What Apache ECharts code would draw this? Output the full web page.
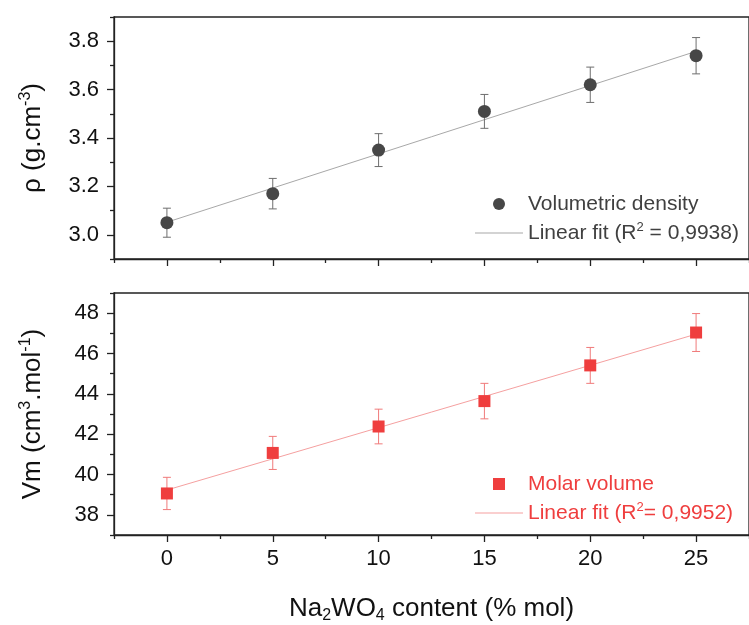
<!DOCTYPE html>
<html>
<head>
<meta charset="utf-8">
<script src="https://cdn.jsdelivr.net/npm/echarts@6/dist/echarts.min.js"></script>
<style>html,body{margin:0;padding:0;background:#fff}#c{width:749px;height:625px}</style>
</head>
<body>
<div id="c"></div>
<script>
// ---- data ----
const xValues = [0, 5, 10, 15, 20, 25];
const rhoValues = [3.05, 3.17, 3.35, 3.51, 3.62, 3.74];
const rhoErrors = [0.06, 0.063, 0.068, 0.07, 0.073, 0.075];
const rhoFitX = [0, 25];
const rhoFitY = [3.052, 3.758];
const vmValues = [39.06, 41.07, 42.38, 43.64, 45.41, 47.04];
const vmErrors = [0.8, 0.82, 0.86, 0.88, 0.89, 0.94];
const vmFitX = [0, 25];
const vmFitY = [39.23, 46.96];
const xTickLabels = [0, 5, 10, 15, 20, 25];
const xMinorTicks = [-2.5, 2.5, 7.5, 12.5, 17.5, 22.5, 27.5];
const rhoTickLabels = [3.0, 3.2, 3.4, 3.6, 3.8];
const rhoMinorTicks = [2.9, 3.1, 3.3, 3.5, 3.7, 3.9];
const vmTickLabels = [38, 40, 42, 44, 46, 48];
const vmMinorTicks = [37, 39, 41, 43, 45, 47, 49];
const names = {
  rho: 'Volumetric density',
  rhoFit: 'Linear fit (R² = 0,9938)',
  vm: 'Molar volume',
  vmFit: 'Linear fit (R²= 0,9952)'
};

const FONT = "'Liberation Sans', Arial, sans-serif";
const AX = '#222';
const LINE_ICON = 'path://M0,0 H48 V1 H0 Z';
const SQUARE_ICON = 'path://M0,0 H10 V10 H0 Z';
const grids = [
  {left: 114, right: -13, top: 17, height: 242},
  {left: 114, right: -13, top: 293, height: 243}
];

function xAxes(gridIndex, withName) {
  const main = {
    type: 'value', gridIndex, position: 'bottom', min: -2.5, max: 27.5,
    axisLine: {onZero: false, lineStyle: {color: AX, width: 1.3}},
    axisTick: {customValues: xTickLabels, length: 7, lineStyle: {color: AX, width: 1.3}},
    axisLabel: {show: withName, customValues: xTickLabels, margin: 13, fontSize: 22, color: '#111', fontFamily: FONT},
    splitLine: {show: false}
  };
  if (withName) {
    main.name = '{n|Na}{sub|2}{n|WO}{sub|4}{n| content (% mol)}';
    main.nameLocation = 'middle';
    main.nameGap = 59;
    main.nameTextStyle = {
      fontFamily: FONT, color: '#111',
      rich: {
        n: {fontSize: 26, lineHeight: 30, fontFamily: FONT, color: '#111'},
        sub: {fontSize: 16, lineHeight: 16, verticalAlign: 'bottom', fontFamily: FONT, color: '#111'}
      }
    };
  }
  const minor = {
    type: 'value', gridIndex, position: 'bottom', min: -2.5, max: 27.5,
    axisLine: {show: false, onZero: false},
    axisTick: {customValues: xMinorTicks, length: 4, lineStyle: {color: AX, width: 1.3}},
    axisLabel: {show: false}, splitLine: {show: false}
  };
  return [main, minor];
}

function yAxes(gridIndex, min, max, labels, minors, fmt, nameParts, gap) {
  const main = {
    type: 'value', gridIndex, position: 'left', min, max,
    axisLine: {show: true, onZero: false, lineStyle: {color: AX, width: 1.3}},
    axisTick: {show: true, customValues: labels, length: 7, lineStyle: {color: AX, width: 1.3}},
    axisLabel: {customValues: labels, margin: 15, fontSize: 22, color: '#111', fontFamily: FONT, formatter: fmt},
    splitLine: {show: false},
    name: nameParts, nameLocation: 'middle', nameGap: gap,
    nameTextStyle: {
      fontFamily: FONT, color: '#111',
      rich: {
        n: {fontSize: 26, lineHeight: 30, fontFamily: FONT, color: '#111'},
        sup: {fontSize: 16, lineHeight: 16, verticalAlign: 'top', fontFamily: FONT, color: '#111'}
      }
    }
  };
  const minor = {
    type: 'value', gridIndex, position: 'left', min, max,
    axisLine: {show: false, onZero: false},
    axisTick: {show: true, customValues: minors, length: 4, lineStyle: {color: AX, width: 1.3}},
    axisLabel: {show: false}, splitLine: {show: false}
  };
  return [main, minor];
}

function errorSeries(xi, yi, vals, errs, color) {
  return {
    type: 'custom', xAxisIndex: xi, yAxisIndex: yi, z: 2, silent: true,
    data: xValues.map((x, i) => [x, vals[i] - errs[i], vals[i] + errs[i]]),
    renderItem: function (params, api) {
      const x = api.value(0);
      const top = api.coord([x, api.value(2)]);
      const bot = api.coord([x, api.value(1)]);
      const w = 4;
      const style = {stroke: color, lineWidth: 1};
      return {
        type: 'group',
        children: [
          {type: 'line', shape: {x1: top[0], y1: top[1], x2: bot[0], y2: bot[1]}, style},
          {type: 'line', shape: {x1: top[0] - w, y1: top[1], x2: top[0] + w, y2: top[1]}, style},
          {type: 'line', shape: {x1: bot[0] - w, y1: bot[1], x2: bot[0] + w, y2: bot[1]}, style}
        ]
      };
    }
  };
}

function legendFmt(name) { return name.replace('²', '{sup|2}'); }

function makeLegend(top, items, color) {
  return {
    orient: 'vertical', left: 475, top, padding: 0, itemWidth: 48, itemHeight: 12, itemGap: 5,
    selectedMode: false, formatter: legendFmt, data: items,
    textStyle: {fontSize: 21, lineHeight: 24, color, fontFamily: FONT,
      rich: {sup: {fontSize: 13, lineHeight: 13, verticalAlign: 'top', color, fontFamily: FONT}}}
  };
}

const option = {
  animation: false,
  backgroundColor: '#fff',
  textStyle: {fontFamily: FONT},
  grid: grids.map(g => Object.assign({show: true, borderColor: AX, borderWidth: 1.3, backgroundColor: 'transparent'}, g)),
  xAxis: [...xAxes(0, false), ...xAxes(1, true)],
  yAxis: [
    ...yAxes(0, 2.9, 3.9, rhoTickLabels, rhoMinorTicks, v => v.toFixed(1), '{n|ρ (g.cm}{sup|-3}{n|)}', 66),
    ...yAxes(1, 37, 49, vmTickLabels, vmMinorTicks, v => String(Math.round(v)), '{n|Vm (cm}{sup|3}{n|.mol}{sup|-1}{n|)}', 66)
  ],
  legend: [
    makeLegend(192, [{name: names.rho, icon: 'circle'}, {name: names.rhoFit, icon: LINE_ICON}], '#404040'),
    makeLegend(472, [{name: names.vm, icon: SQUARE_ICON}, {name: names.vmFit, icon: LINE_ICON}], '#ef3e3e')
  ],
  series: [
    {
      name: names.rhoFit, type: 'line', xAxisIndex: 0, yAxisIndex: 0, z: 1,
      symbol: 'none', data: rhoFitX.map((x, i) => [x, rhoFitY[i]]),
      lineStyle: {color: '#a8a8a8', width: 1}, itemStyle: {color: '#a8a8a8'}
    },
    errorSeries(0, 0, rhoValues, rhoErrors, '#6e6e6e'),
    {
      name: names.rho, type: 'scatter', xAxisIndex: 0, yAxisIndex: 0, z: 3,
      symbol: 'circle', symbolSize: 13, data: xValues.map((x, i) => [x, rhoValues[i]]),
      itemStyle: {color: '#474747', opacity: 1}
    },
    {
      name: names.vmFit, type: 'line', xAxisIndex: 2, yAxisIndex: 2, z: 1,
      symbol: 'none', data: vmFitX.map((x, i) => [x, vmFitY[i]]),
      lineStyle: {color: '#f5a0a0', width: 1}, itemStyle: {color: '#f5a0a0'}
    },
    errorSeries(2, 2, vmValues, vmErrors, '#f07a7a'),
    {
      name: names.vm, type: 'scatter', xAxisIndex: 2, yAxisIndex: 2, z: 3,
      symbol: 'rect', symbolSize: 12, data: xValues.map((x, i) => [x, vmValues[i]]),
      itemStyle: {color: '#ef3e3e', opacity: 1}
    }
  ]
};

const chart = echarts.init(document.getElementById('c'), null, {renderer: 'canvas'});
chart.setOption(option);
</script>
</body>
</html>
